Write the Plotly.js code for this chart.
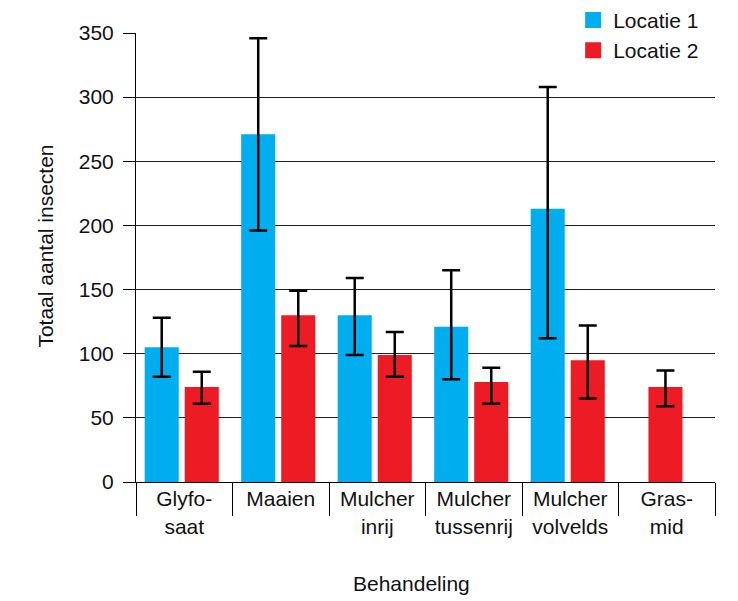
<!DOCTYPE html>
<html>
<head>
<meta charset="utf-8">
<script src="https://cdn.plot.ly/plotly-3.0.1.min.js"></script>
<style>
  html, body { margin: 0; padding: 0; background: #fff; }
  #chart { width: 738px; height: 601px; }
</style>
</head>
<body>
<div id="chart"></div>
<script>
// Behandelingen (x-as), met afbreking zoals in de figuur
const categories = [
  'Glyfo-<br>saat',
  'Maaien',
  'Mulcher<br>inrij',
  'Mulcher<br>tussenrij',
  'Mulcher<br>volvelds',
  'Gras-<br>mid'
];

// Totaal aantal insecten per locatie
const locatie1 = [105, 271, 130, 121, 213, null];
const locatie2 = [74, 130, 99, 78, 95, 74];

// Foutbalken: boven (plus) en onder (min)
const locatie1Plus  = [23, 75, 29, 44, 95, null];
const locatie1Minus = [23, 75, 31, 41, 101, null];
const locatie2Plus  = [12, 19, 18, 11, 27, 13];
const locatie2Minus = [13, 24, 17, 17, 30, 15];

const seriesNames = ['Locatie 1', 'Locatie 2'];
const colours = ['#00ADEE', '#ED1C24'];

const FONT = 'Liberation Sans, Arial, Helvetica, sans-serif';
const BAR_W = 0.353;

// Locatie 2 staat rechts in de groep; bij Gras-mid is er alleen Locatie 2, gecentreerd
const offsetsL1 = categories.map(() => -0.41);
const offsetsL2 = locatie1.map(v => (v === null ? -0.19 : 0.005));

function errorBar(plus, minus) {
  return {
    type: 'data', symmetric: false,
    array: plus, arrayminus: minus,
    color: '#000', thickness: 2.5, width: 9
  };
}

const traces = [
  {
    type: 'bar', name: seriesNames[0], x: categories, y: locatie1,
    width: BAR_W, offset: offsetsL1,
    marker: { color: colours[0], line: { width: 0 } },
    error_y: errorBar(locatie1Plus, locatie1Minus),
    showlegend: false, hoverinfo: 'y'
  },
  {
    type: 'bar', name: seriesNames[1], x: categories, y: locatie2,
    width: BAR_W, offset: offsetsL2,
    marker: { color: colours[1], line: { width: 0 } },
    error_y: errorBar(locatie2Plus, locatie2Minus),
    showlegend: false, hoverinfo: 'y'
  },
  // legenda-items met vierkante kleurvlakjes
  ...seriesNames.map((n, i) => ({
    type: 'scatter', mode: 'markers', name: n, x: [null], y: [null],
    marker: { symbol: 'square', size: 16, color: colours[i] },
    hoverinfo: 'skip'
  }))
];

const layout = {
  width: 738, height: 601,
  margin: { l: 136, r: 23, t: 33, b: 119, autoexpand: false },
  paper_bgcolor: '#fff', plot_bgcolor: '#fff',
  font: { family: FONT, size: 21, color: '#111' },
  barmode: 'overlay',
  showlegend: true,
  legend: {
    x: 0.755, y: 1.074, xanchor: 'left', yanchor: 'top',
    bgcolor: 'rgba(0,0,0,0)', borderwidth: 0,
    font: { family: FONT, size: 21, color: '#111' },
    tracegroupgap: 0
  },
  // witte onderbreking van de bovenste rasterlijn achter de legenda
  shapes: [
    {
      type: 'rect', xref: 'paper', yref: 'paper', layer: 'above',
      x0: 0.7686, x1: 0.9793, y0: 0.994, y1: 1.006,
      fillcolor: '#fff', line: { width: 0 }
    }
  ],
  xaxis: {
    type: 'category',
    range: [-0.5, 5.5],
    showline: true, linecolor: '#000', linewidth: 1,
    ticks: 'outside', tickson: 'boundaries', ticklen: 33,
    tickcolor: '#000', tickwidth: 1,
    ticklabelstandoff: -2,
    tickfont: { family: FONT, size: 21, color: '#111' },
    showgrid: false, zeroline: false, fixedrange: true
  },
  yaxis: {
    range: [0, 350], dtick: 50, tick0: 0,
    showline: true, linecolor: '#000', linewidth: 1,
    ticks: 'outside', ticklen: 12, tickcolor: '#000', tickwidth: 1,
    ticklabelstandoff: 5,
    tickfont: { family: FONT, size: 21, color: '#111' },
    showgrid: true, gridcolor: '#222', gridwidth: 1,
    zeroline: false, fixedrange: true
  },
  annotations: [
    {
      text: 'Behandeling', xref: 'paper', yref: 'paper',
      x: 0.476, y: -0.226, xanchor: 'center', yanchor: 'middle',
      showarrow: false, font: { family: FONT, size: 21, color: '#111' }
    },
    {
      text: 'Totaal aantal insecten', xref: 'paper', yref: 'paper',
      x: -0.157, y: 0.5245, xanchor: 'center', yanchor: 'middle',
      textangle: -90, showarrow: false,
      font: { family: FONT, size: 21, color: '#111' }
    }
  ]
};

Plotly.newPlot('chart', traces, layout, { displayModeBar: false, staticPlot: true });
</script>
</body>
</html>
